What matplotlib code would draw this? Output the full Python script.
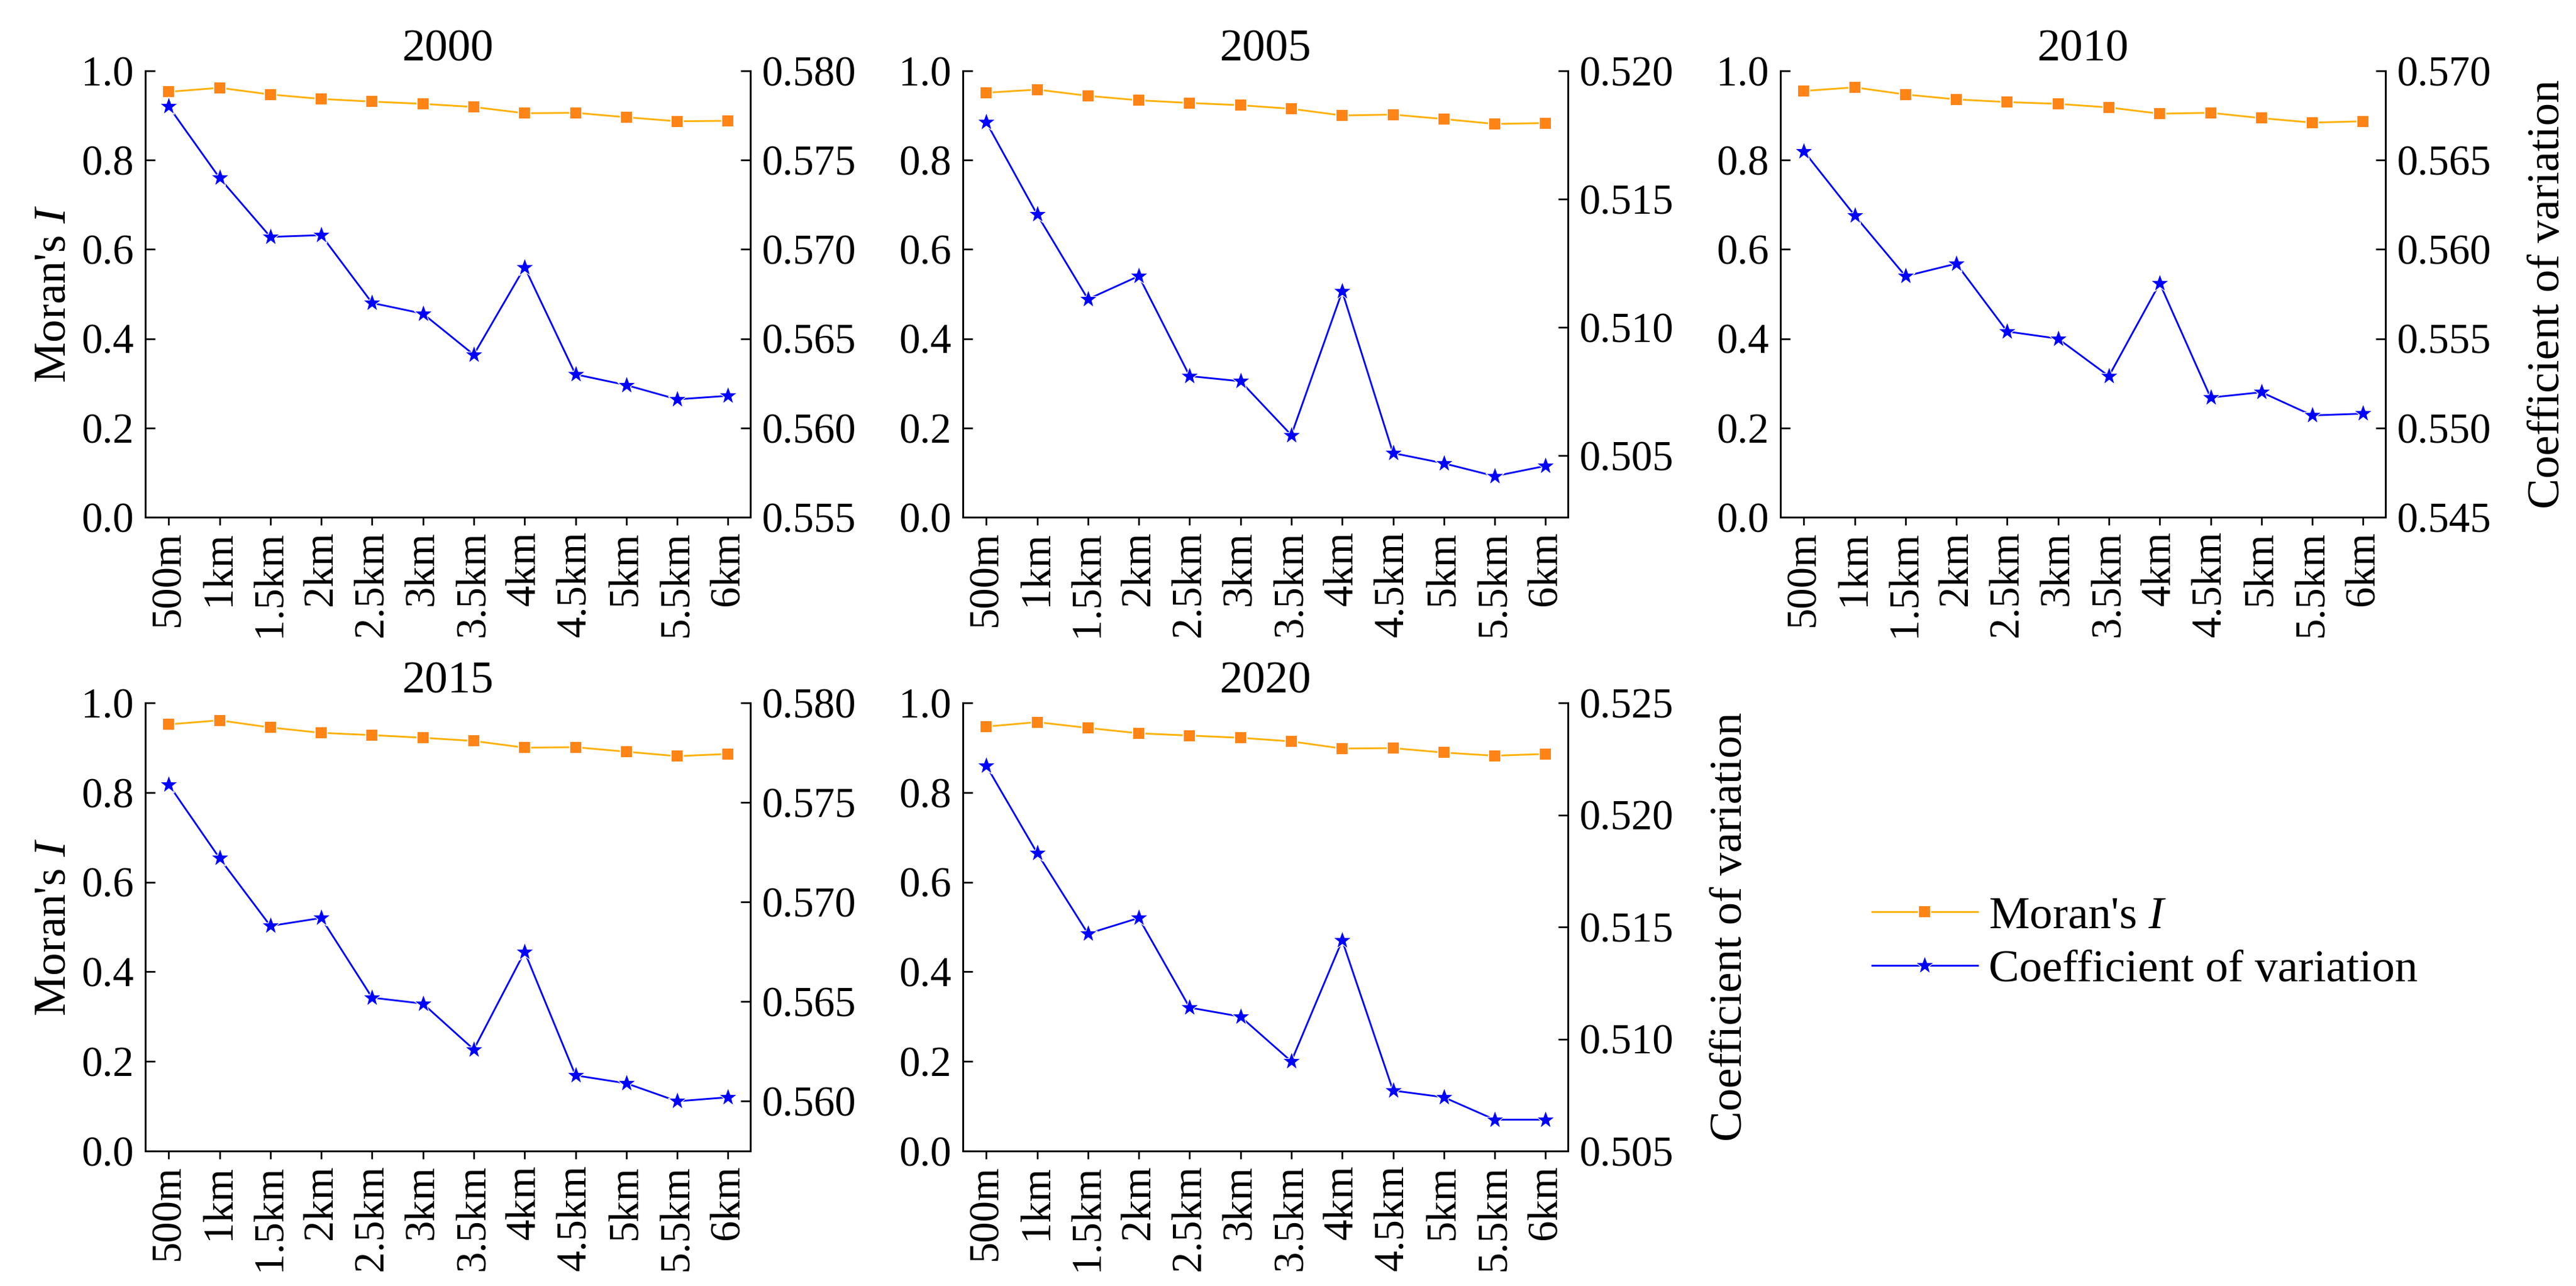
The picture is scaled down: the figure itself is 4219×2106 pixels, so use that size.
import matplotlib.pyplot as plt
import matplotlib.ticker as mticker

plt.rcParams['font.family'] = ['Liberation Serif', 'DejaVu Serif']
plt.rcParams['mathtext.fontset'] = 'custom'
plt.rcParams['mathtext.rm'] = 'Liberation Serif'
plt.rcParams['mathtext.it'] = 'Liberation Serif:italic'

# data
scales = ['500m', '1km', '1.5km', '2km', '2.5km', '3km', '3.5km', '4km',
          '4.5km', '5km', '5.5km', '6km']
years = ['2000', '2005', '2010', '2015', '2020']

moran_2000 = [0.953, 0.962, 0.947, 0.937, 0.931, 0.926, 0.919, 0.905, 0.906, 0.896, 0.887, 0.888]
moran_2005 = [0.951, 0.958, 0.944, 0.934, 0.928, 0.923, 0.915, 0.900, 0.902, 0.892, 0.881, 0.883]
moran_2010 = [0.955, 0.963, 0.947, 0.936, 0.930, 0.926, 0.918, 0.904, 0.906, 0.894, 0.884, 0.887]
moran_2015 = [0.952, 0.961, 0.945, 0.933, 0.928, 0.922, 0.915, 0.900, 0.901, 0.891, 0.881, 0.886]
moran_2020 = [0.947, 0.957, 0.944, 0.932, 0.927, 0.922, 0.914, 0.898, 0.899, 0.889, 0.882, 0.886]

cv_2000 = [0.5780, 0.5740, 0.5707, 0.5708, 0.5670, 0.5664, 0.5641, 0.5690, 0.5630, 0.5624, 0.5616, 0.5618]
cv_2005 = [0.5180, 0.5144, 0.5111, 0.5120, 0.5081, 0.5079, 0.5058, 0.5114, 0.5051, 0.5047, 0.5042, 0.5046]
cv_2010 = [0.5655, 0.5619, 0.5585, 0.5592, 0.5554, 0.5550, 0.5529, 0.5581, 0.5517, 0.5520, 0.5507, 0.5508]
cv_2015 = [0.5759, 0.5722, 0.5688, 0.5692, 0.5652, 0.5649, 0.5626, 0.5675, 0.5613, 0.5609, 0.5600, 0.5602]
cv_2020 = [0.5222, 0.5183, 0.5147, 0.5154, 0.5114, 0.5110, 0.5090, 0.5144, 0.5077, 0.5074, 0.5064, 0.5064]

moran_all = [moran_2000, moran_2005, moran_2010, moran_2015, moran_2020]
cv_all = [cv_2000, cv_2005, cv_2010, cv_2015, cv_2020]
cv_lims = [(0.555, 0.580), (0.5026, 0.520), (0.545, 0.570), (0.5575, 0.580), (0.505, 0.525)]

W, H = 4219, 2106
fig = plt.figure(figsize=(W / 300, H / 300), dpi=300)

col_left = [238, 1577, 2916]
row_top = [116, 1151]
row_h = [731, 734]
ax_w = 991
slots = [(0, 0), (0, 1), (0, 2), (1, 0), (1, 1)]

line_orange = '#FFB000'
mark_orange = '#FF8416'
blue = '#0000FF'
lw_spine = 0.65

x = list(range(len(scales)))

for k, year in enumerate(years):
    r, c = slots[k]
    top = row_top[r]
    h = row_h[r]
    ax = fig.add_axes([col_left[c] / W, 1 - (top + h) / H, ax_w / W, h / H])
    ax2 = ax.twinx()

    l1, = ax.plot(x, moran_all[k], color=line_orange, lw=0.7, marker='s', ms=4.8,
                  mfc=mark_orange, mec='white', mew=0.45, label="Moran's $I$")
    l2, = ax2.plot(x, cv_all[k], color=blue, lw=0.7, marker='*', ms=7.5,
                   mfc=blue, mec='white', mew=0.3, label='Coefficient of variation')

    ax.set_xlim(-0.46, 11.44)
    ax.set_ylim(0, 1.0)
    ax.set_yticks([0, 0.2, 0.4, 0.6, 0.8, 1.0])
    ax.yaxis.set_major_formatter(mticker.FormatStrFormatter('%.1f'))
    ax.set_xticks(x)
    ax.set_xticklabels(scales, rotation=90)

    ax2.set_ylim(*cv_lims[k])
    ax2.yaxis.set_major_locator(mticker.MultipleLocator(0.005))
    ax2.yaxis.set_major_formatter(mticker.FormatStrFormatter('%.3f'))

    for a in (ax, ax2):
        a.spines['top'].set_visible(False)
        for s in ('left', 'right', 'bottom'):
            a.spines[s].set_linewidth(lw_spine)
    ax.tick_params(axis='y', direction='in', length=3.8, width=lw_spine, labelsize=16.5, pad=4.5)
    ax.tick_params(axis='x', direction='out', length=3.2, width=lw_spine, labelsize=16.5, pad=2.2)
    ax2.tick_params(axis='y', direction='in', length=3.8, width=lw_spine, labelsize=16.5, pad=4.3)

    ax.set_title(year, fontsize=18, pad=4)

    if c == 0:
        ax.set_ylabel("Moran's $I$", fontsize=18)
        ax.yaxis.set_label_coords(-0.117, 0.5)
    if year in ('2010', '2020'):
        ax2.set_ylabel('Coefficient of variation', fontsize=18)
        ax2.yaxis.set_label_coords(1.235, 0.5)

    if k == 0:
        handles = [l1, l2]

fig.legend(handles=handles, loc='center left', bbox_to_anchor=(3066 / W, 1 - 1545 / H),
           frameon=False, fontsize=18, handlelength=2.3, handletextpad=0.25,
           borderpad=0, borderaxespad=0, labelspacing=0.25)

fig.savefig('out.png', dpi=300)
